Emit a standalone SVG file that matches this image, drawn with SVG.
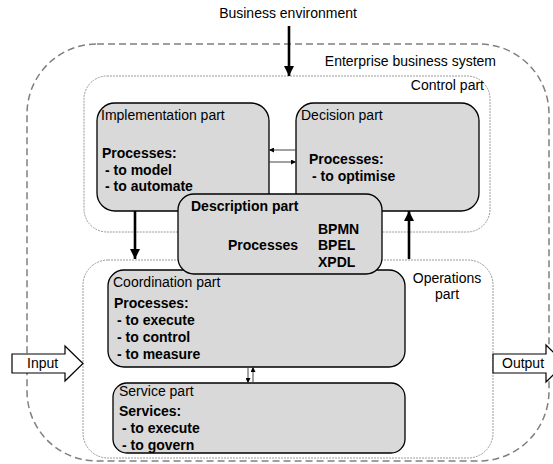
<svg xmlns="http://www.w3.org/2000/svg" width="553" height="464" viewBox="0 0 553 464">
  <style>
    text { font-family: "Liberation Sans", Arial, sans-serif; font-size: 14px; fill: #000; }
    .b { font-weight: bold; }
    .mid { text-anchor: middle; }
    .end { text-anchor: end; }
    .outer { fill: none; stroke: #808080; stroke-width: 1.5; stroke-dasharray: 7 4; }
    .zone { fill: #fff; stroke: #9a9a9a; stroke-width: 1; stroke-dasharray: 2 1; }
    .part { fill: #d9d9d9; stroke: #000; stroke-width: 1.3; }
    .thick { stroke: #000; stroke-width: 2.6; fill: none; }
    .thin { stroke: #444; stroke-width: 1; fill: none; }
    .block { fill: #fff; stroke: #000; stroke-width: 1.2; }
  </style>
  <defs>
    <marker id="bigHead" markerUnits="userSpaceOnUse" markerWidth="10" markerHeight="10" viewBox="0 0 10 10" refX="10" refY="5" orient="auto">
      <path d="M0,0 L10,5 L0,10 Z" fill="#000"/>
    </marker>
    <marker id="smallHead" markerUnits="userSpaceOnUse" markerWidth="5" markerHeight="5" viewBox="0 0 5 5" refX="5" refY="2.5" orient="auto">
      <path d="M0,0 L5,2.5 L0,5 Z" fill="#000"/>
    </marker>
  </defs>

  <!-- enterprise boundary -->
  <g id="enterprise">
    <rect class="outer" x="27" y="44" width="522" height="417" rx="70" ry="70"/>
    <text class="end" x="496" y="66">Enterprise business system</text>
  </g>

  <g id="environment">
    <text class="mid" x="288" y="18">Business environment</text>
  </g>

  <!-- zones -->
  <g id="control-part">
    <rect class="zone" x="84" y="76" width="406" height="156" rx="23" ry="23"/>
    <text class="end" x="484" y="90">Control part</text>
  </g>
  <g id="operations-part">
    <rect class="zone" x="83" y="260" width="410" height="198" rx="25" ry="25"/>
    <text class="mid" x="447" y="283">Operations</text>
    <text class="mid" x="447" y="299">part</text>
  </g>

  <!-- parts -->
  <g id="implementation-part">
    <rect class="part" x="97" y="103" width="172" height="108" rx="18" ry="18"/>
    <text x="101" y="120">Implementation part</text>
    <text class="b" x="102" y="158">Processes:</text>
    <text class="b" x="105" y="175">- to model</text>
    <text class="b" x="105" y="191">- to automate</text>
  </g>

  <g id="decision-part">
    <rect class="part" x="296" y="103" width="183" height="108" rx="18" ry="18"/>
    <text x="301" y="120">Decision part</text>
    <text class="b" x="309" y="164">Processes:</text>
    <text class="b" x="312" y="181">- to optimise</text>
  </g>

  <g id="coordination-part">
    <rect class="part" x="108" y="270" width="297" height="97" rx="16" ry="16"/>
    <text x="113" y="287">Coordination part</text>
    <text class="b" x="114" y="308">Processes:</text>
    <text class="b" x="117" y="325">- to execute</text>
    <text class="b" x="117" y="342">- to control</text>
    <text class="b" x="117" y="359">- to measure</text>
  </g>

  <g id="service-part">
    <rect class="part" x="113" y="383" width="292" height="70" rx="14" ry="14"/>
    <text x="119" y="396">Service part</text>
    <text class="b" x="119" y="416">Services:</text>
    <text class="b" x="122" y="433">- to execute</text>
    <text class="b" x="122" y="450">- to govern</text>
  </g>

  <g id="description-part">
    <rect class="part" x="178" y="194" width="204" height="80" rx="16" ry="16"/>
    <text class="b" x="191" y="211">Description part</text>
    <text class="b" x="228" y="250">Processes</text>
    <text class="b" x="318" y="234">BPMN</text>
    <text class="b" x="318" y="250">BPEL</text>
    <text class="b" x="318" y="267">XPDL</text>
  </g>

  <!-- input / output -->
  <g id="input">
    <polygon class="block" points="12,354 65,354 65,346 83,363.5 65,381 65,373 12,373"/>
    <text x="27" y="368">Input</text>
  </g>
  <g id="output">
    <polygon class="block" points="493,354 546,354 546,345 565,363.5 546,382 546,373 493,373"/>
    <text x="502" y="368">Output</text>
  </g>

  <!-- connectors -->
  <g id="connectors">
    <line class="thick" x1="289" y1="26" x2="289" y2="76" marker-end="url(#bigHead)"/>
    <line class="thick" x1="135" y1="211" x2="135" y2="259" marker-end="url(#bigHead)"/>
    <line class="thick" x1="409" y1="259" x2="409" y2="211" marker-end="url(#bigHead)"/>
    <line class="thin" x1="296" y1="150" x2="269" y2="150" marker-end="url(#smallHead)"/>
    <line class="thin" x1="269" y1="162" x2="296" y2="162" marker-end="url(#smallHead)"/>
    <line class="thin" x1="248" y1="367" x2="248" y2="383" marker-end="url(#smallHead)"/>
    <line class="thin" x1="253" y1="383" x2="253" y2="367" marker-end="url(#smallHead)"/>
  </g>
</svg>
